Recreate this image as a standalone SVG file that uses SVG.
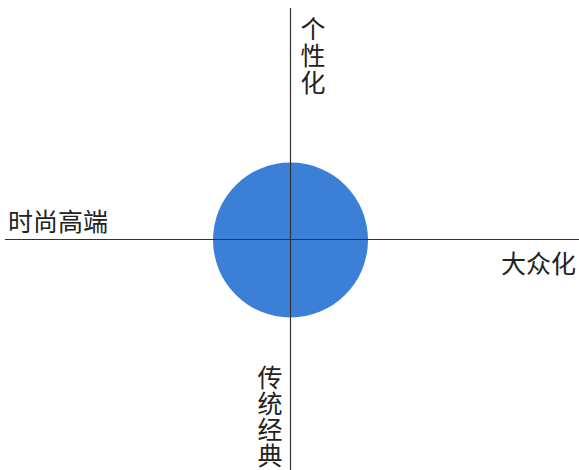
<svg xmlns="http://www.w3.org/2000/svg" width="579" height="470" viewBox="0 0 579 470">
<style>
.lbl{font-family:"Noto Sans CJK SC","Noto Sans",sans-serif;font-size:25px;fill:#222;}
.vert{writing-mode:vertical-rl;text-orientation:upright;}
.axis{stroke:#333;stroke-width:1.2;fill:none;}
</style>
<rect width="579" height="470" fill="#ffffff"/>
<g id="circle"><circle cx="290.5" cy="240" r="77.5" fill="#3c7fd6"/></g>
<g id="connectors">
<line class="axis" x1="290.5" y1="8" x2="290.5" y2="470"/>
<line class="axis" x1="5" y1="239.5" x2="579" y2="239.5"/>
</g>
<g id="top-label"><text class="lbl vert" x="313" y="16" letter-spacing="2">个性化</text></g>
<g id="bottom-label"><text class="lbl vert" x="270" y="365" letter-spacing="1">传统经典</text></g>
<g id="left-label"><text class="lbl" x="8" y="231">时尚高端</text></g>
<g id="right-label"><text class="lbl" x="501" y="273">大众化</text></g>
</svg>
